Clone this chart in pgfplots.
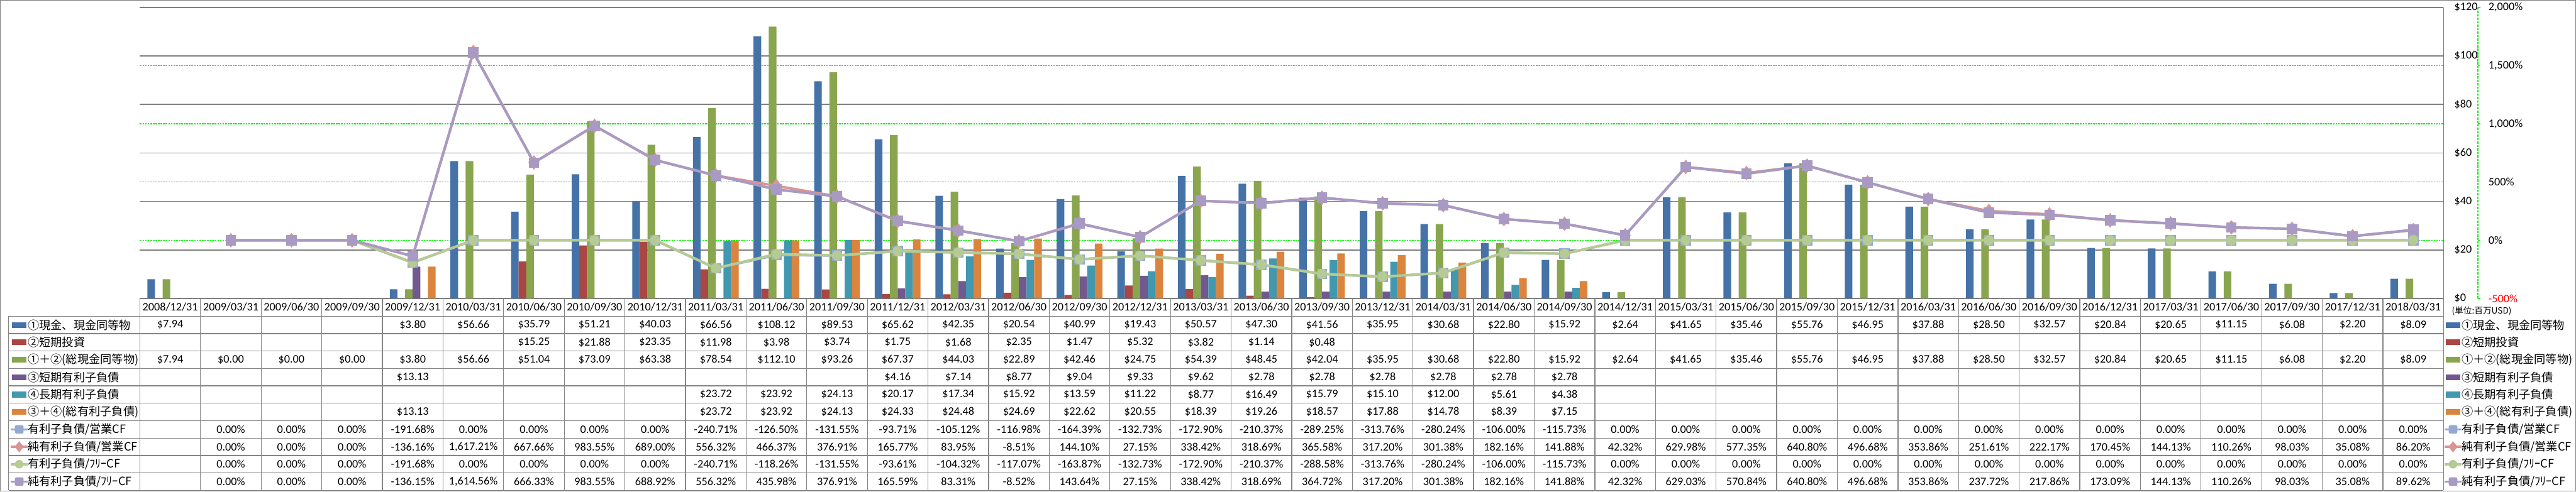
\documentclass[border=0pt]{standalone}
\usepackage{fontspec}
\setmainfont{Carlito}
\newfontfamily\jp{Noto Sans CJK JP}
\usepackage{pgfplots}
\pgfplotsset{compat=1.18}
\usetikzlibrary{shapes.geometric}

\definecolor{cBar1}{HTML}{4572A7}
\definecolor{cBar2}{HTML}{AA4643}
\definecolor{cBar3}{HTML}{89A54E}
\definecolor{cBar4}{HTML}{71588F}
\definecolor{cBar5}{HTML}{4198AF}
\definecolor{cBar6}{HTML}{DB843D}
\definecolor{cL1}{HTML}{93A9D4}
\definecolor{cL2}{HTML}{D99694}
\definecolor{cL3}{HTML}{B6CB93}
\definecolor{cL4}{HTML}{A89AC3}
\definecolor{gridgray}{HTML}{7F7F7F}
\definecolor{tabgray}{HTML}{858585}
\definecolor{dotgreen}{HTML}{00F000}

% 1 px of the reference = 0.5pt; origin = lower left corner of the plot area
\newcommand\tf{\fontsize{10}{12}\selectfont}
\newcommand\tabrow[2]{\foreach \v [count=\i from 0] in {#2} {\node[font=\tf, inner sep=0pt] at ({(\i+0.5)*52.868pt},#1) {\v};}}

\tikzset{
  sqK/.style={rectangle, minimum size=7.5pt, inner sep=0pt, rounded corners=1pt},
  diK/.style={diamond, minimum width=8pt, minimum height=10pt, inner sep=0pt},
  ciK/.style={circle, minimum size=7.5pt, inner sep=0pt},
}
% bar key: left x, y, colour
\newcommand\barkey[3]{\fill[#3] (#1,#2) ++(0pt,-2.5pt) rectangle ++(12.5pt,5pt);}
% line key: left x, y, colour, marker style
\newcommand\linekey[4]{\draw[#3, line width=2pt] (#1,#2) -- ++(14.5pt,0pt);
  \path (#1,#2) ++(7.25pt,0pt) node[#4, fill=#3] {};}
\newcommand\keyset[3]{% #1 bar key x, #2 line key x, #3 text x
  \barkey{#1}{-23.1pt}{cBar1}\node[anchor=west,inner sep=0pt,font=\jp\tf] at (#3,-23.1pt) {①現金、現金同等物};
  \barkey{#1}{-38.3pt}{cBar2}\node[anchor=west,inner sep=0pt,font=\jp\tf] at (#3,-38.3pt) {②短期投資};
  \barkey{#1}{-53.5pt}{cBar3}\node[anchor=west,inner sep=0pt,font=\jp\tf] at (#3,-53.5pt) {①＋②(総現金同等物)};
  \barkey{#1}{-68.7pt}{cBar4}\node[anchor=west,inner sep=0pt,font=\jp\tf] at (#3,-68.7pt) {③短期有利子負債};
  \barkey{#1}{-83.9pt}{cBar5}\node[anchor=west,inner sep=0pt,font=\jp\tf] at (#3,-83.9pt) {④長期有利子負債};
  \barkey{#1}{-99.1pt}{cBar6}\node[anchor=west,inner sep=0pt,font=\jp\tf] at (#3,-99.1pt) {③＋④(総有利子負債)};
  \linekey{#2}{-114.3pt}{cL1}{sqK}\node[anchor=west,inner sep=0pt,font=\jp\tf] at (#3,-114.3pt) {有利子負債/営業CF};
  \linekey{#2}{-129.5pt}{cL2}{diK}\node[anchor=west,inner sep=0pt,font=\jp\tf] at (#3,-129.5pt) {純有利子負債/営業CF};
  \linekey{#2}{-144.7pt}{cL3}{ciK}\node[anchor=west,inner sep=0pt,font=\jp\tf] at (#3,-144.7pt) {有利子負債/ﾌﾘｰCF};
  \linekey{#2}{-159.9pt}{cL4}{sqK}\node[anchor=west,inner sep=0pt,font=\jp\tf] at (#3,-159.9pt) {純有利子負債/ﾌﾘｰCF};
}

\pgfplotsset{
  base/.style={at={(0,0)}, anchor=south west, scale only axis,
    width=2009pt, height=254pt, xmin=-0.5, xmax=37.5},
}

\begin{document}
\begin{tikzpicture}
\useasboundingbox (-122pt,-168.5pt) rectangle (2124.5pt,260.5pt);

% secondary scale: green dotted grid and % labels
\begin{axis}[base, ymin=-500, ymax=2000,
  hide x axis, axis y line*=right, y axis line style={draw=none},
  ytick={-500,0,500,1000,1500,2000},
  yticklabels={{\textcolor{red}{-500\%}},0\%,500\%,{1,000\%},{1,500\%},{2,000\%}},
  yticklabel pos=right, ytick pos=right,
  yticklabel style={font=\tf, anchor=west, inner sep=0pt, xshift=39pt},
  major tick length=0pt, ymajorgrids,
  grid style={dotgreen, line width=0.8pt, dash pattern=on 1.5pt off 0.75pt}]
\end{axis}

% primary scale: the bars
\begin{axis}[base, ymin=0, ymax=120,
  ybar=0pt, bar width=6.65pt,
  axis x line*=bottom, axis y line*=right,
  axis line style={gridgray, line width=0.8pt, -},
  ytick={0,20,40,60,80,100,120},
  yticklabels={\$0,\$20,\$40,\$60,\$80,\$100,\$120},
  yticklabel pos=right, ytick pos=right,
  yticklabel style={font=\tf, anchor=west, inner sep=0pt, xshift=9.25pt},
  xtick={0,...,37},
  xticklabels={2008/12/31,2009/03/31,2009/06/30,2009/09/30,2009/12/31,2010/03/31,2010/06/30,2010/09/30,2010/12/31,2011/03/31,2011/06/30,2011/09/30,2011/12/31,2012/03/31,2012/06/30,2012/09/30,2012/12/31,2013/03/31,2013/06/30,2013/09/30,2013/12/31,2014/03/31,2014/06/30,2014/09/30,2014/12/31,2015/03/31,2015/06/30,2015/09/30,2015/12/31,2016/03/31,2016/06/30,2016/09/30,2016/12/31,2017/03/31,2017/06/30,2017/09/30,2017/12/31,2018/03/31},
  xticklabel style={font=\tf, anchor=center, inner sep=0pt, yshift=-7.5pt},
  major tick length=0pt, ymajorgrids,
  grid style={gridgray, line width=0.8pt}]
% ①現金、現金同等物
\addplot[fill=cBar1, draw=none] coordinates {(0,7.94)(4,3.80)(5,56.66)(6,35.79)(7,51.21)(8,40.03)(9,66.56)(10,108.12)(11,89.53)(12,65.62)(13,42.35)(14,20.54)(15,40.99)(16,19.43)(17,50.57)(18,47.30)(19,41.56)(20,35.95)(21,30.68)(22,22.80)(23,15.92)(24,2.64)(25,41.65)(26,35.46)(27,55.76)(28,46.95)(29,37.88)(30,28.50)(31,32.57)(32,20.84)(33,20.65)(34,11.15)(35,6.08)(36,2.20)(37,8.09)};
% ②短期投資
\addplot[fill=cBar2, draw=none] coordinates {(6,15.25)(7,21.88)(8,23.35)(9,11.98)(10,3.98)(11,3.74)(12,1.75)(13,1.68)(14,2.35)(15,1.47)(16,5.32)(17,3.82)(18,1.14)(19,0.48)};
% ①+②
\addplot[fill=cBar3, draw=none] coordinates {(0,7.94)(1,0)(2,0)(3,0)(4,3.80)(5,56.66)(6,51.04)(7,73.09)(8,63.38)(9,78.54)(10,112.10)(11,93.26)(12,67.37)(13,44.03)(14,22.89)(15,42.46)(16,24.75)(17,54.39)(18,48.45)(19,42.04)(20,35.95)(21,30.68)(22,22.80)(23,15.92)(24,2.64)(25,41.65)(26,35.46)(27,55.76)(28,46.95)(29,37.88)(30,28.50)(31,32.57)(32,20.84)(33,20.65)(34,11.15)(35,6.08)(36,2.20)(37,8.09)};
% ③短期有利子負債
\addplot[fill=cBar4, draw=none] coordinates {(4,13.13)(12,4.16)(13,7.14)(14,8.77)(15,9.04)(16,9.33)(17,9.62)(18,2.78)(19,2.78)(20,2.78)(21,2.78)(22,2.78)(23,2.78)};
% ④長期有利子負債
\addplot[fill=cBar5, draw=none] coordinates {(9,23.72)(10,23.92)(11,24.13)(12,20.17)(13,17.34)(14,15.92)(15,13.59)(16,11.22)(17,8.77)(18,16.49)(19,15.79)(20,15.10)(21,12.00)(22,5.61)(23,4.38)};
% ③+④
\addplot[fill=cBar6, draw=none] coordinates {(4,13.13)(9,23.72)(10,23.92)(11,24.13)(12,24.33)(13,24.48)(14,24.69)(15,22.62)(16,20.55)(17,18.39)(18,19.26)(19,18.57)(20,17.88)(21,14.78)(22,8.39)(23,7.15)};
\end{axis}

% secondary scale: the ratio lines
\begin{axis}[base, ymin=-500, ymax=2000, hide axis, clip=false]
% 有利子負債/営業CF
\addplot[cL1, line width=2.2pt, mark=square*, mark size=4.3pt, mark options={solid, fill=cL1, line width=0.5pt}] coordinates {(1,0)(2,0)(3,0)(4,-191.68)(5,0)(6,0)(7,0)(8,0)(9,-240.71)(10,-126.50)(11,-131.55)(12,-93.71)(13,-105.12)(14,-116.98)(15,-164.39)(16,-132.73)(17,-172.90)(18,-210.37)(19,-289.25)(20,-313.76)(21,-280.24)(22,-106.00)(23,-115.73)(24,0)(25,0)(26,0)(27,0)(28,0)(29,0)(30,0)(31,0)(32,0)(33,0)(34,0)(35,0)(36,0)(37,0)};
% 純有利子負債/営業CF
\addplot[cL2, line width=2.2pt, mark=diamond*, mark size=6pt, mark options={solid, fill=cL2, line width=0.5pt}] coordinates {(1,0)(2,0)(3,0)(4,-136.16)(5,1617.21)(6,667.66)(7,983.55)(8,689.00)(9,556.32)(10,466.37)(11,376.91)(12,165.77)(13,83.95)(14,-8.51)(15,144.10)(16,27.15)(17,338.42)(18,318.69)(19,365.58)(20,317.20)(21,301.38)(22,182.16)(23,141.88)(24,42.32)(25,629.98)(26,577.35)(27,640.80)(28,496.68)(29,353.86)(30,251.61)(31,222.17)(32,170.45)(33,144.13)(34,110.26)(35,98.03)(36,35.08)(37,86.20)};
% 有利子負債/フリーCF
\addplot[cL3, line width=2.2pt, mark=*, mark size=4.2pt, mark options={solid, fill=cL3, line width=0.5pt}] coordinates {(1,0)(2,0)(3,0)(4,-191.68)(5,0)(6,0)(7,0)(8,0)(9,-240.71)(10,-118.26)(11,-131.55)(12,-93.61)(13,-104.32)(14,-117.07)(15,-163.87)(16,-132.73)(17,-172.90)(18,-210.37)(19,-288.58)(20,-313.76)(21,-280.24)(22,-106.00)(23,-115.73)(24,0)(25,0)(26,0)(27,0)(28,0)(29,0)(30,0)(31,0)(32,0)(33,0)(34,0)(35,0)(36,0)(37,0)};
% 純有利子負債/フリーCF
\addplot[cL4, line width=2.2pt, mark=square*, mark size=4.3pt, mark options={solid, fill=cL4, line width=0.5pt}] coordinates {(1,0)(2,0)(3,0)(4,-136.15)(5,1614.56)(6,666.33)(7,983.55)(8,688.92)(9,556.32)(10,435.98)(11,376.91)(12,165.59)(13,83.31)(14,-8.52)(15,143.64)(16,27.15)(17,338.42)(18,318.69)(19,364.72)(20,317.20)(21,301.38)(22,182.16)(23,141.88)(24,42.32)(25,629.03)(26,570.84)(27,640.80)(28,496.68)(29,353.86)(30,237.72)(31,217.86)(32,173.09)(33,144.13)(34,110.26)(35,98.03)(36,35.08)(37,89.62)};
\end{axis}

% secondary axis line with its small ticks
\draw[dotgreen, line width=0.8pt, dash pattern=on 2pt off 1pt] (2039pt,0pt) -- (2039pt,254pt);
\foreach \k in {0,...,5} {\draw[dotgreen, line width=0.8pt] (2039pt,{\k*50.8pt}) -- ++(2pt,0pt);}

% data table grid
\foreach \r in {0,...,10} {\draw[tabgray, line width=0.7pt] (-114.5pt,{-15.5pt-\r*15.2pt}) -- (2009pt,{-15.5pt-\r*15.2pt});}
\draw[tabgray, line width=0.7pt] (-114.5pt,-15.5pt) -- (-114.5pt,-167.5pt);
\foreach \k in {0,...,38} {\draw[tabgray, line width=0.7pt] ({\k*52.868pt},0pt) -- ({\k*52.868pt},-167.5pt);}

% data table values
\tabrow{-23.1pt}{\$7.94,,,,\$3.80,\$56.66,\$35.79,\$51.21,\$40.03,\$66.56,\$108.12,\$89.53,\$65.62,\$42.35,\$20.54,\$40.99,\$19.43,\$50.57,\$47.30,\$41.56,\$35.95,\$30.68,\$22.80,\$15.92,\$2.64,\$41.65,\$35.46,\$55.76,\$46.95,\$37.88,\$28.50,\$32.57,\$20.84,\$20.65,\$11.15,\$6.08,\$2.20,\$8.09}
\tabrow{-38.3pt}{,,,,,,\$15.25,\$21.88,\$23.35,\$11.98,\$3.98,\$3.74,\$1.75,\$1.68,\$2.35,\$1.47,\$5.32,\$3.82,\$1.14,\$0.48}
\tabrow{-53.5pt}{\$7.94,\$0.00,\$0.00,\$0.00,\$3.80,\$56.66,\$51.04,\$73.09,\$63.38,\$78.54,\$112.10,\$93.26,\$67.37,\$44.03,\$22.89,\$42.46,\$24.75,\$54.39,\$48.45,\$42.04,\$35.95,\$30.68,\$22.80,\$15.92,\$2.64,\$41.65,\$35.46,\$55.76,\$46.95,\$37.88,\$28.50,\$32.57,\$20.84,\$20.65,\$11.15,\$6.08,\$2.20,\$8.09}
\tabrow{-68.7pt}{,,,,\$13.13,,,,,,,,\$4.16,\$7.14,\$8.77,\$9.04,\$9.33,\$9.62,\$2.78,\$2.78,\$2.78,\$2.78,\$2.78,\$2.78}
\tabrow{-83.9pt}{,,,,,,,,,\$23.72,\$23.92,\$24.13,\$20.17,\$17.34,\$15.92,\$13.59,\$11.22,\$8.77,\$16.49,\$15.79,\$15.10,\$12.00,\$5.61,\$4.38}
\tabrow{-99.1pt}{,,,,\$13.13,,,,,\$23.72,\$23.92,\$24.13,\$24.33,\$24.48,\$24.69,\$22.62,\$20.55,\$18.39,\$19.26,\$18.57,\$17.88,\$14.78,\$8.39,\$7.15}
\tabrow{-114.3pt}{,0.00\%,0.00\%,0.00\%,-191.68\%,0.00\%,0.00\%,0.00\%,0.00\%,-240.71\%,-126.50\%,-131.55\%,-93.71\%,-105.12\%,-116.98\%,-164.39\%,-132.73\%,-172.90\%,-210.37\%,-289.25\%,-313.76\%,-280.24\%,-106.00\%,-115.73\%,0.00\%,0.00\%,0.00\%,0.00\%,0.00\%,0.00\%,0.00\%,0.00\%,0.00\%,0.00\%,0.00\%,0.00\%,0.00\%,0.00\%}
\tabrow{-129.5pt}{,0.00\%,0.00\%,0.00\%,-136.16\%,{1,617.21\%},667.66\%,983.55\%,689.00\%,556.32\%,466.37\%,376.91\%,165.77\%,83.95\%,-8.51\%,144.10\%,27.15\%,338.42\%,318.69\%,365.58\%,317.20\%,301.38\%,182.16\%,141.88\%,42.32\%,629.98\%,577.35\%,640.80\%,496.68\%,353.86\%,251.61\%,222.17\%,170.45\%,144.13\%,110.26\%,98.03\%,35.08\%,86.20\%}
\tabrow{-144.7pt}{,0.00\%,0.00\%,0.00\%,-191.68\%,0.00\%,0.00\%,0.00\%,0.00\%,-240.71\%,-118.26\%,-131.55\%,-93.61\%,-104.32\%,-117.07\%,-163.87\%,-132.73\%,-172.90\%,-210.37\%,-288.58\%,-313.76\%,-280.24\%,-106.00\%,-115.73\%,0.00\%,0.00\%,0.00\%,0.00\%,0.00\%,0.00\%,0.00\%,0.00\%,0.00\%,0.00\%,0.00\%,0.00\%,0.00\%,0.00\%}
\tabrow{-159.9pt}{,0.00\%,0.00\%,0.00\%,-136.15\%,{1,614.56\%},666.33\%,983.55\%,688.92\%,556.32\%,435.98\%,376.91\%,165.59\%,83.31\%,-8.52\%,143.64\%,27.15\%,338.42\%,318.69\%,364.72\%,317.20\%,301.38\%,182.16\%,141.88\%,42.32\%,629.03\%,570.84\%,640.80\%,496.68\%,353.86\%,237.72\%,217.86\%,173.09\%,144.13\%,110.26\%,98.03\%,35.08\%,89.62\%}

% legend keys in the table and at the right
\keyset{-111.5pt}{-112.5pt}{-98pt}
\keyset{2011pt}{2010pt}{2024.5pt}
\node[anchor=west, inner sep=0pt, font=\jp\fontsize{7.5}{9}\selectfont] at (2016pt,-11pt) {(単位:百万USD)};

% chart area border
\draw[gridgray, line width=0.6pt] (-121.5pt,-168pt) rectangle (2124pt,260pt);
\end{tikzpicture}
\end{document}
